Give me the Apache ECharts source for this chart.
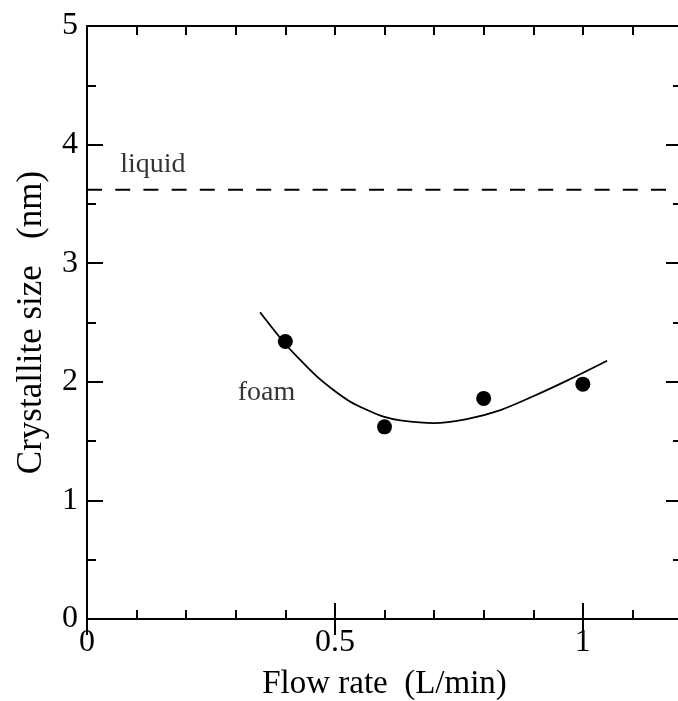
<!DOCTYPE html>
<html>
<head>
<meta charset="utf-8">
<script src="https://cdn.jsdelivr.net/npm/echarts@6/dist/echarts.min.js"></script>
<style>
  html, body { margin: 0; padding: 0; background: #fff; }
  #chart { width: 678px; height: 701px; }
</style>
</head>
<body>
<div id="chart"></div>
<script>
// measured points (flow rate, crystallite size)
const flowRate = [0.4, 0.6, 0.8, 1.0];
const crystalSize = [2.34, 1.62, 1.86, 1.98];

// fitted curve
const fitX = [0.349, 0.396, 0.430, 0.464, 0.497, 0.531, 0.565, 0.598, 0.632, 0.699, 0.766, 0.834, 0.901, 0.968, 1.049];
const fitY = [2.586, 2.338, 2.184, 2.043, 1.931, 1.832, 1.762, 1.706, 1.675, 1.652, 1.686, 1.762, 1.88, 2.01, 2.178];

// liquid reference level
const liquidLevel = 3.62;
const liquidX = [0, 1.17];

const xMajorLabels = ['0', '0.5', '1'];
const yMajorLabels = ['0', '1', '2', '3', '4', '5'];

const font = '"Liberation Serif", "DejaVu Serif", serif';

let myChart = echarts.init(document.getElementById('chart'));

const axisLine = { show: true, onZero: false, lineStyle: { color: '#000', width: 2 } };
const tickLine = { color: '#000', width: 2 };

// 0.1 ticks, short
function minorX(pos) {
    return {
        type: 'value', position: pos, min: 0, max: 1.2, interval: 0.1,
        axisLine: axisLine,
        axisTick: { show: true, inside: true, length: 9, lineStyle: tickLine },
        axisLabel: { show: false },
        splitLine: { show: false }
    };
}
// 0.5 ticks, long
function majorX(pos, labels) {
    return {
        type: 'value', position: pos, min: 0, max: 1.2, interval: 0.5,
        axisLine: { show: false },
        axisTick: { show: true, inside: true, length: 16, lineStyle: tickLine },
        axisLabel: {
            show: labels, color: '#000', fontFamily: font, fontSize: 32, margin: 8,
            showMaxLabel: false,
            formatter: (v) => xMajorLabels[Math.round(v / 0.5)] || ''
        },
        splitLine: { show: false },
        name: labels ? 'Flow rate  (L/min)' : '',
        nameLocation: 'middle',
        nameGap: 49,
        nameTextStyle: { color: '#000', fontFamily: font, fontSize: 33 }
    };
}
function yAxisDef(pos, labels) {
    return {
        type: 'value', position: pos, min: 0, max: 5, interval: 1,
        axisLine: { show: labels, onZero: false, lineStyle: { color: '#000', width: 2 } },
        axisTick: { show: true, inside: true, length: 16, lineStyle: tickLine },
        minorTick: { show: true, splitNumber: 2, length: 9, lineStyle: tickLine },
        axisLabel: {
            show: labels, color: '#000', fontFamily: font, fontSize: 32, margin: 9,
            formatter: (v) => yMajorLabels[Math.round(v)]
        },
        splitLine: { show: false },
        minorSplitLine: { show: false },
        name: labels ? 'Crystallite size   (nm)' : '',
        nameLocation: 'middle',
        nameGap: 38,
        nameTextStyle: { color: '#000', fontFamily: font, fontSize: 35 }
    };
}

myChart.setOption({
    animation: false,
    backgroundColor: '#fff',
    grid: { left: 87, top: 26, width: 595, height: 593, containLabel: false, outerBoundsMode: 'none' },
    xAxis: [minorX('bottom'), majorX('bottom', true), minorX('top'), majorX('top', false)],
    yAxis: [yAxisDef('left', true), yAxisDef('right', false)],
    series: [
        {
            name: 'liquid',
            type: 'line',
            symbol: 'none',
            data: liquidX.map((x) => [x, liquidLevel]),
            lineStyle: { color: '#000', width: 2, type: [15, 13.2] },
            silent: true
        },
        {
            name: 'fit',
            type: 'line',
            smooth: 0.3,
            symbol: 'none',
            data: fitX.map((x, i) => [x, fitY[i]]),
            lineStyle: { color: '#000', width: 1.8 },
            silent: true
        },
        {
            name: 'foam',
            type: 'scatter',
            symbol: 'circle',
            symbolSize: 15,
            itemStyle: { color: '#000', opacity: 1 },
            data: flowRate.map((x, i) => [x, crystalSize[i]])
        },
        {
            name: 'labels',
            type: 'scatter',
            symbolSize: 0,
            silent: true,
            label: {
                show: true, position: 'inside', color: '#000', fontFamily: font, fontSize: 28,
                formatter: (p) => p.data.name
            },
            data: [
                { name: 'liquid', value: [0.133, 3.83] },
                { name: 'foam', value: [0.362, 1.905] }
            ]
        }
    ]
});
</script>
</body>
</html>
